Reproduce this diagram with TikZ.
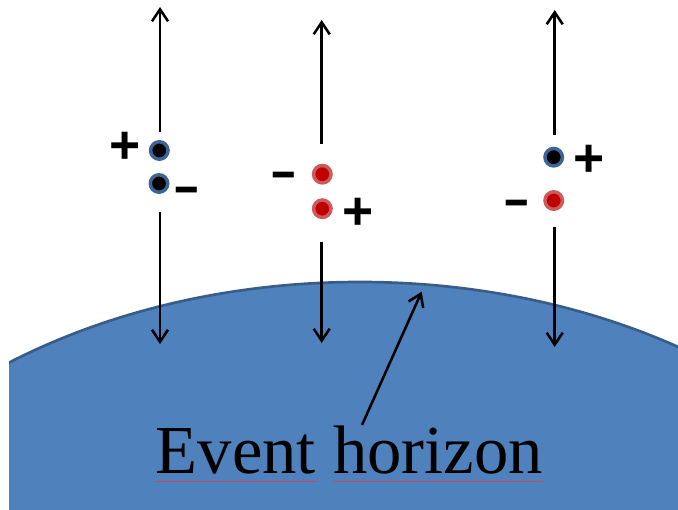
\documentclass[tikz,border=0pt]{standalone}
\usepackage{graphicx}
\usepackage{fontspec}
\setmainfont{Liberation Serif}
\newfontfamily\signfamily{Liberation Sans}
\usetikzlibrary{arrows.meta}
\definecolor{holefill}{RGB}{79,129,189}
\definecolor{holeedge}{RGB}{56,93,138}
\definecolor{bluering}{RGB}{60,100,150}
\definecolor{redfill}{RGB}{192,0,0}
\definecolor{redring}{RGB}{205,90,90}
\definecolor{squiggle}{RGB}{200,70,100}
\newcommand{\minussign}{\scalebox{1}[1.25]{\bfseries −}}
\begin{document}
\begin{tikzpicture}[x=0.75pt,y=-0.75pt,
  bdot/.style={circle, inner sep=0pt, minimum size=13.1pt, fill=black, draw=bluering, line width=2.6pt},
  rdot/.style={circle, inner sep=0pt, minimum size=13.1pt, fill=redfill, draw=redring, line width=2.6pt},
  plussign/.style={inner sep=0pt, anchor=base, font=\signfamily\bfseries\fontsize{40}{44}\selectfont},
  minsign/.style={inner sep=0pt, anchor=base, font=\signfamily\fontsize{31.5}{36}\selectfont},
  arr/.style={line width=1.9pt, -{Straight Barb[length=9pt,width=12pt]}},
  evt/.style={inner sep=0pt, font=\fontsize{51.5}{60}\selectfont},
  squig/.style={draw=squiggle, line width=0.7pt}]
\useasboundingbox (0,0) rectangle (678,510);
% black hole
\begin{scope}
  \clip (9,0) rectangle (678,510);
  \draw[fill=holefill, draw=holeedge, line width=2pt] (360,709) ellipse [x radius=600, y radius=427];
\end{scope}
% particle pairs
\node[bdot] (l1) at (159.3,150.5) {};
\node[bdot] (l2) at (159,183.5) {};
\node[rdot] (m1) at (322.3,174.2) {};
\node[rdot] (m2) at (322.3,208.7) {};
\node[bdot] (r1) at (553.7,157.2) {};
\node[rdot] (r2) at (553.7,200.5) {};
% signs
\node[plussign] (lp) at (125,163.4) {+};
\node[minsign] (lm) at (187,207) {\minussign};
\node[minsign] (mm) at (284,192.8) {\minussign};
\node[plussign] (mp) at (358,229.4) {+};
\node[plussign] (rp) at (589.5,176.1) {+};
\node[minsign] (rm) at (516.7,220.6) {\minussign};
% arrow ends
\coordinate (lus) at (160,132);   \coordinate (lut) at (160,7);
\coordinate (lds) at (160,212);   \coordinate (ldt) at (160,344);
\coordinate (mus) at (321.7,144); \coordinate (mut) at (321.7,20);
\coordinate (mds) at (321.7,242); \coordinate (mdt) at (321.7,343);
\coordinate (rus) at (554.7,135); \coordinate (rut) at (554.7,10);
\coordinate (rds) at (554.7,227); \coordinate (rdt) at (554.7,347);
\draw[arr] (lus) -- (lut);
\draw[arr] (lds) -- (ldt);
\draw[arr] (mus) -- (mut);
\draw[arr] (mds) -- (mdt);
\draw[arr] (rus) -- (rut);
\draw[arr] (rds) -- (rdt);
% label
\node[evt, anchor=base west] (eh) at (155.5,473) {Event horizon};
\coordinate (ehtail) at (362,425);
\coordinate (ehtip) at (421.7,291.7);
\draw[arr] (ehtail) -- (ehtip);
\draw[squig] (156,481.5) -- (317,481.5);
\draw[squig] (333,481.5) -- (543,481.5);
\end{tikzpicture}
\end{document}
